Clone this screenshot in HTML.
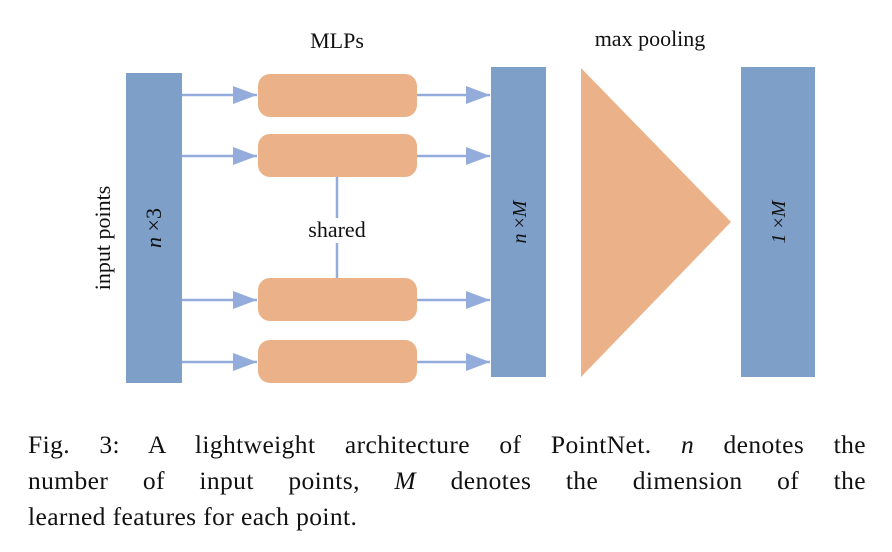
<!DOCTYPE html>
<html><head><style>
body{margin:0;width:892px;height:552px;background:#fff;overflow:hidden;font-family:"Liberation Serif",serif}
.cap{position:absolute;left:28px;width:838px;font-size:25.5px;letter-spacing:0.4px;line-height:36px;color:#111;text-align:justify;text-align-last:justify;white-space:nowrap}
</style></head><body>
<svg width="892" height="400" style="position:absolute;left:0;top:0" font-family="Liberation Serif,serif">
<defs>
<marker id="b" viewBox="0 0 24 18" markerWidth="24" markerHeight="18" refX="24" refY="9" orient="auto" markerUnits="userSpaceOnUse"><path d="M0,0 L24,9 L0,18z" fill="#93acdb"/></marker></defs>
<rect x="126" y="73" width="56" height="310" fill="#7d9fc8"/>
<rect x="491" y="67" width="55" height="310" fill="#7d9fc8"/>
<rect x="741" y="67" width="74" height="310" fill="#7d9fc8"/>
<polygon points="581,68 731,222 581,377" fill="#ebb289"/>
<g fill="#ebb289">
<rect x="258" y="74" width="159" height="43" rx="12"/>
<rect x="258" y="134" width="159" height="43" rx="12"/>
<rect x="258" y="278" width="159" height="43" rx="12"/>
<rect x="258" y="340" width="159" height="43" rx="12"/>
</g>
<g stroke="#93acdb" stroke-width="2.5" fill="none">
<line x1="182" y1="95" x2="257" y2="95" marker-end="url(#b)"/>
<line x1="182" y1="156" x2="257" y2="156" marker-end="url(#b)"/>
<line x1="182" y1="300" x2="257" y2="300" marker-end="url(#b)"/>
<line x1="182" y1="362" x2="257" y2="362" marker-end="url(#b)"/>
<line x1="417" y1="95" x2="490" y2="95" marker-end="url(#b)"/>
<line x1="417" y1="156" x2="490" y2="156" marker-end="url(#b)"/>
<line x1="417" y1="300" x2="490" y2="300" marker-end="url(#b)"/>
<line x1="417" y1="362" x2="490" y2="362" marker-end="url(#b)"/>
<line x1="337" y1="177" x2="337" y2="218"/>
<line x1="337" y1="243" x2="337" y2="278"/>
</g>
<text x="337" y="237" font-size="22" text-anchor="middle" fill="#111">shared</text>
<text x="337" y="48" font-size="22" text-anchor="middle" fill="#111">MLPs</text>
<text x="650" y="46" font-size="22" text-anchor="middle" fill="#111">max pooling</text>
<text transform="translate(110,238) rotate(-90)" font-size="22" text-anchor="middle" fill="#111">input points</text>
<text transform="translate(161,228) rotate(-90)" font-size="22" text-anchor="middle" fill="#111"><tspan font-style="italic">n</tspan> ×3</text>
<text transform="translate(526,222) rotate(-90)" font-size="20" text-anchor="middle" fill="#111"><tspan font-style="italic">n</tspan> ×<tspan font-style="italic">M</tspan></text>
<text transform="translate(785,222) rotate(-90)" font-size="20" text-anchor="middle" fill="#111"><tspan font-style="italic">1</tspan> ×<tspan font-style="italic">M</tspan></text>
</svg>
<div class="cap" style="top:427px">Fig. 3: A lightweight architecture of PointNet. <i>n</i> denotes the</div>
<div class="cap" style="top:463px">number of input points, <i>M</i> denotes the dimension of the</div>
<div class="cap" style="top:499px;text-align-last:left">learned features for each point.</div>
</body></html>
